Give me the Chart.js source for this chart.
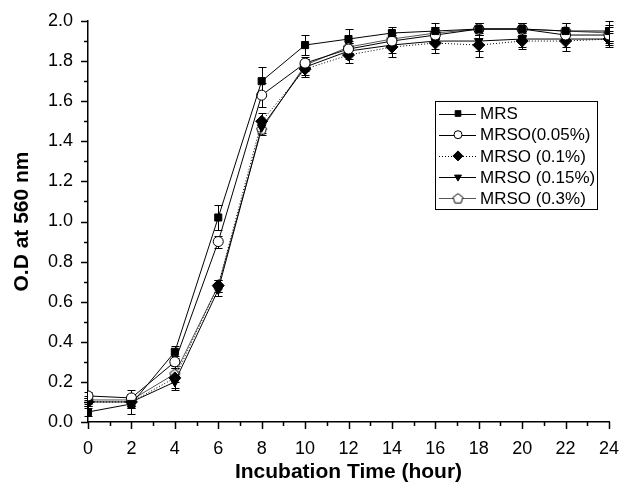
<!DOCTYPE html>
<html>
<head>
<meta charset="utf-8">
<script src="https://cdn.jsdelivr.net/npm/chart.js@4.4.0/dist/chart.umd.min.js"></script>
<style>
  body { margin: 0; background: #fff; }
  #wrap { width: 625px; height: 491px; }
</style>
</head>
<body>
<div id="wrap"><canvas id="growthChart" width="625" height="491"></canvas></div>
<script>
// Incubation time (hours)
const hours = [0, 2, 4, 6, 8, 10, 12, 14, 16, 18, 20, 22, 24];

// O.D at 560 nm
const mrs      = [0.05, 0.09, 0.35, 1.02, 1.70, 1.88, 1.91, 1.94, 1.95, 1.96, 1.96, 1.95, 1.95];
const mrso005  = [0.13, 0.12, 0.30, 0.90, 1.63, 1.79, 1.86, 1.90, 1.93, 1.96, 1.96, 1.93, 1.93];
const mrso01   = [0.10, 0.10, 0.22, 0.68, 1.50, 1.76, 1.83, 1.87, 1.89, 1.88, 1.90, 1.90, 1.91];
const mrso015  = [0.10, 0.10, 0.20, 0.66, 1.47, 1.77, 1.85, 1.88, 1.90, 1.90, 1.91, 1.91, 1.91];
const mrso03   = [0.11, 0.11, 0.24, 0.68, 1.46, 1.78, 1.87, 1.91, 1.94, 1.96, 1.96, 1.95, 1.94];

// error bar half heights
const errMrs     = [0.02, 0.05, 0.03, 0.06, 0.07, 0.05, 0.05, 0.03, 0.04, 0.03, 0.03, 0.04, 0.05];
const errMrso005 = [0.02, 0.04, 0.03, 0.03, 0.06, 0.03, 0.03, 0.03, 0.03, 0.03, 0.03, 0.03, 0.04];
const errMrso01  = [0.02, 0.03, 0.05, 0.03, 0.04, 0.04, 0.04, 0.05, 0.05, 0.06, 0.04, 0.05, 0.04];
const errMrso015 = [0.02, 0.03, 0.04, 0.03, 0.03, 0.04, 0.04, 0.04, 0.04, 0.05, 0.04, 0.04, 0.03];
const errMrso03  = [0.02, 0.03, 0.04, 0.03, 0.03, 0.03, 0.03, 0.03, 0.03, 0.03, 0.03, 0.04, 0.04];

const labels = ['MRS', 'MRSO(0.05%)', 'MRSO (0.1%)', 'MRSO (0.15%)', 'MRSO (0.3%)'];

// y ticks 0.0 .. 2.0, x ticks 0 .. 24
const yMajor = [0, 0.2, 0.4, 0.6, 0.8, 1.0, 1.2, 1.4, 1.6, 1.8, 2.0];
const xMajor = [0, 2, 4, 6, 8, 10, 12, 14, 16, 18, 20, 22, 24];

// pentagon marker (no built in style for it)
function pentagon() {
    let c = document.createElement('canvas');
    c.width = 13; c.height = 13;
    let g = c.getContext('2d');
    g.beginPath();
    for (let i = 0; i < 5; i++) {
        let a = -Math.PI / 2 + i * 2 * Math.PI / 5;
        let px = 6.5 + 5.2 * Math.cos(a), py = 7 + 5.2 * Math.sin(a);
        if (i == 0) g.moveTo(px, py); else g.lineTo(px, py);
    }
    g.closePath();
    g.fillStyle = '#fff';
    g.fill();
    g.lineWidth = 1;
    g.strokeStyle = '#000';
    g.stroke();
    return c;
}
const pentImg = pentagon();

function pts(vals) {
    return vals.map((v, i) => ({ x: hours[i], y: v }));
}

function makeSet(i, vals, errs, style, fill, extra) {
    return Object.assign({
        label: labels[i],
        data: pts(vals),
        errors: errs,
        borderColor: '#000',
        borderWidth: 1,
        pointStyle: style,
        pointRadius: 5,
        pointBackgroundColor: fill,
        pointBorderColor: '#000',
        pointBorderWidth: 1,
        tension: 0
    }, extra || {});
}

const datasets = [
    makeSet(0, mrs, errMrs, 'rect', '#000', { pointRadius: 5 }),
    makeSet(1, mrso005, errMrso005, 'circle', '#fff', { pointRadius: 5 }),
    makeSet(2, mrso01, errMrso01, 'rectRot', '#000', { pointRadius: 6, borderDash: [1, 2] }),
    makeSet(3, mrso015, errMrso015, 'triangle', '#000', { pointRadius: 5, pointRotation: 180 }),
    makeSet(4, mrso03, errMrso03, pentImg, '#fff', { borderColor: '#555' })
];

// error bars drawn under the markers
const errorBars = {
    id: 'errorBars',
    beforeDatasetsDraw(chart) {
        const ctx = chart.ctx;
        const xs = chart.scales.x, ys = chart.scales.y;
        ctx.save();
        ctx.strokeStyle = '#000';
        ctx.lineWidth = 1;
        chart.data.datasets.forEach(ds => {
            ds.data.forEach((p, i) => {
                let e = ds.errors[i];
                let x = Math.round(xs.getPixelForValue(p.x)) + 0.5;
                let y1 = Math.round(ys.getPixelForValue(p.y - e)) + 0.5;
                let y2 = Math.round(ys.getPixelForValue(p.y + e)) + 0.5;
                ctx.beginPath();
                ctx.moveTo(x, y1); ctx.lineTo(x, y2);
                ctx.moveTo(x - 4, y1); ctx.lineTo(x + 4, y1);
                ctx.moveTo(x - 4, y2); ctx.lineTo(x + 4, y2);
                ctx.stroke();
            });
        });
        ctx.restore();
    }
};

// outward major and minor ticks
const axisTicks = {
    id: 'axisTicks',
    afterDraw(chart) {
        const ctx = chart.ctx;
        const xs = chart.scales.x, ys = chart.scales.y;
        const a = chart.chartArea;
        ctx.save();
        ctx.strokeStyle = '#000';
        ctx.lineWidth = 1.5;
        ctx.beginPath();
        for (let v = 0; v <= 20; v++) {
            let y = Math.round(ys.getPixelForValue(v / 10)) + 0.5;
            let len = v % 2 == 0 ? 7 : 4;
            ctx.moveTo(a.left, y); ctx.lineTo(a.left - len, y);
        }
        for (let h = 0; h <= 24; h++) {
            let x = Math.round(xs.getPixelForValue(h)) + 0.5;
            let len = h % 2 == 0 ? 7 : 4;
            ctx.moveTo(x, a.bottom); ctx.lineTo(x, a.bottom + len);
        }
        ctx.stroke();
        ctx.restore();
    }
};

// boxed legend inside the plot
const boxLegend = {
    id: 'boxLegend',
    afterDraw(chart) {
        const ctx = chart.ctx;
        const left = 435, top = 101, w = 162, h = 108;
        ctx.save();
        ctx.fillStyle = '#fff';
        ctx.fillRect(left, top, w, h);
        ctx.strokeStyle = '#000';
        ctx.lineWidth = 1;
        ctx.strokeRect(left + 0.5, top + 0.5, w, h);
        ctx.font = '17px "Liberation Sans", Arial, sans-serif';
        ctx.textBaseline = 'middle';
        chart.data.datasets.forEach((ds, i) => {
            let y = top + 12.5 + i * 21.2;
            ctx.strokeStyle = ds.borderColor;
            ctx.setLineDash(ds.borderDash || []);
            ctx.beginPath();
            ctx.moveTo(left + 4, Math.round(y) + 0.5);
            ctx.lineTo(left + 41, Math.round(y) + 0.5);
            ctx.stroke();
            ctx.setLineDash([]);
            ctx.fillStyle = ds.pointBackgroundColor;
            ctx.strokeStyle = '#000';
            Chart.helpers.drawPoint(ctx, {
                pointStyle: ds.pointStyle,
                radius: ds.pointRadius - 1,
                rotation: ds.pointRotation || 0,
                borderWidth: 1
            }, left + 23, y);
            ctx.fillStyle = '#000';
            ctx.fillText(ds.label, left + 45, y + 1);
        });
        ctx.restore();
    }
};

const font = '"Liberation Sans", Arial, sans-serif';

new Chart(document.getElementById('growthChart'), {
    type: 'line',
    data: { datasets: datasets },
    options: {
        responsive: false,
        animation: false,
        layout: { padding: { top: 21, right: 16, left: 0, bottom: 0 } },
        plugins: {
            legend: { display: false },
            tooltip: { enabled: false }
        },
        scales: {
            x: {
                type: 'linear',
                min: 0,
                max: 24,
                afterFit(s) { s.height = 69; s.paddingLeft = 0; s.paddingRight = 0; },
                afterBuildTicks(s) { s.ticks = xMajor.map(v => ({ value: v })); },
                grid: { display: false, drawTicks: false },
                border: { display: true, color: '#000', width: 1.5 },
                ticks: { color: '#000', padding: 16, font: { family: font, size: 18 }, maxRotation: 0 },
                title: {
                    display: true,
                    text: 'Incubation Time (hour)',
                    color: '#000',
                    font: { family: font, size: 21, weight: 'bold' },
                    padding: { top: 0, bottom: 6 }
                }
            },
            y: {
                min: 0,
                max: 2,
                afterFit(s) { s.width = 88; s.paddingTop = 0; s.paddingBottom = 0; },
                afterBuildTicks(s) { s.ticks = yMajor.map(v => ({ value: v })); },
                grid: { display: false, drawTicks: false },
                border: { display: true, color: '#000', width: 1.5 },
                ticks: {
                    color: '#000',
                    padding: 15,
                    font: { family: font, size: 18 },
                    callback: v => v.toFixed(1)
                },
                title: {
                    display: true,
                    text: 'O.D at 560 nm',
                    color: '#000',
                    font: { family: font, size: 21, weight: 'bold' },
                    padding: { top: 10, bottom: 0 }
                }
            }
        }
    },
    plugins: [errorBars, axisTicks, boxLegend]
});
</script>
</body>
</html>
